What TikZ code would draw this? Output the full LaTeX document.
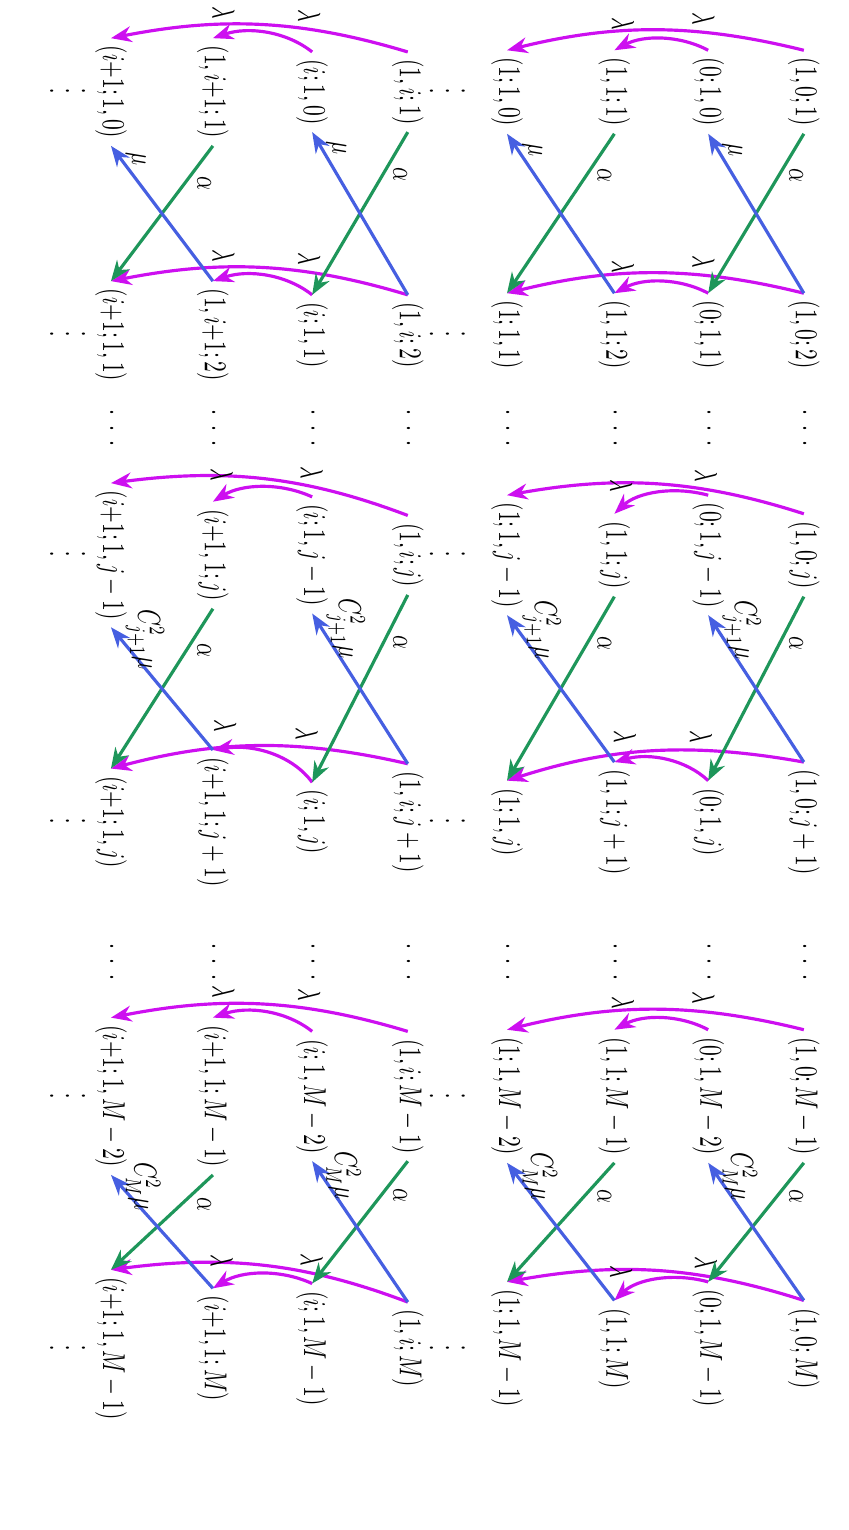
\documentclass[tikz,border=0pt]{standalone}
\usepackage{amsmath,amssymb}
\usepackage{xcolor}
\definecolor{lambdapink}{RGB}{205, 15, 240}
\definecolor{mublue}{RGB}{70, 95, 225}
\definecolor{alphagreen}{RGB}{30, 150, 90}
\usepackage{tikz}
\usetikzlibrary{arrows.meta}
\newcommand{\rowdots}{{\cdot}\mkern8mu{\cdot}\mkern8mu{\cdot}}
\newcommand{\coldots}{{\cdot}\mkern4mu{\cdot}\mkern4mu{\cdot}}

\begin{document}
\begin{tikzpicture}[rotate=-90, xscale=0.68, transform shape,
    >={Stealth[length=6.5pt, width=5pt]},
    state/.style={inner sep=3.33pt},
    lamarc/.style={->, line width=1pt, lambdapink},
    alphaline/.style={->, line width=1pt, alphagreen},
    muline/.style={->, line width=1pt, mublue},
    lbl/.style={text=black, inner sep=1pt}]
    \useasboundingbox (0,0) rectangle (24.94,9.41);

    \node[state] (s11) at (1.50,8.91) {$(1,0;1)$};
    \node[state] (s12) at (5.46,8.91) {$(1,0;2)$};
    \node[state] (s13) at (9.05,8.91) {$(1,0;j)$};
    \node[state] (s14) at (13.40,8.91) {$(1,0;j+1)$};
    \node[state] (s15) at (17.87,8.91) {$(1,0;M-1)$};
    \node[state] (s16) at (21.98,8.91) {$(1,0;M)$};

    \node[state] (s21) at (1.50,7.85) {$(0;1,0)$};
    \node[state] (s22) at (5.46,7.85) {$(0;1,1)$};
    \node[state] (s23) at (9.05,7.85) {$(0;1,j-1)$};
    \node[state] (s24) at (13.40,7.85) {$(0;1,j)$};
    \node[state] (s25) at (17.87,7.85) {$(0;1,M-2)$};
    \node[state] (s26) at (21.98,7.85) {$(0;1,M-1)$};

    \node[state] (s31) at (1.50,6.81) {$(1,1;1)$};
    \node[state] (s32) at (5.46,6.81) {$(1,1;2)$};
    \node[state] (s33) at (9.05,6.81) {$(1,1;j)$};
    \node[state] (s34) at (13.40,6.81) {$(1,1;j+1)$};
    \node[state] (s35) at (17.87,6.81) {$(1,1;M-1)$};
    \node[state] (s36) at (21.98,6.81) {$(1,1;M)$};

    \node[state] (s41) at (1.50,5.62) {$(1;1,0)$};
    \node[state] (s42) at (5.46,5.62) {$(1;1,1)$};
    \node[state] (s43) at (9.05,5.62) {$(1;1,j-1)$};
    \node[state] (s44) at (13.40,5.62) {$(1;1,j)$};
    \node[state] (s45) at (17.87,5.62) {$(1;1,M-2)$};
    \node[state] (s46) at (21.98,5.62) {$(1;1,M-1)$};

    \node[state] (s51) at (1.50,4.52) {$(1,i;1)$};
    \node[state] (s52) at (5.46,4.52) {$(1,i;2)$};
    \node[state] (s53) at (9.05,4.52) {$(1,i;j)$};
    \node[state] (s54) at (13.40,4.52) {$(1,i;j+1)$};
    \node[state] (s55) at (17.87,4.52) {$(1,i;M-1)$};
    \node[state] (s56) at (21.98,4.52) {$(1,i;M)$};

    \node[state] (s61) at (1.50,3.46) {$(i;1,0)$};
    \node[state] (s62) at (5.46,3.46) {$(i;1,1)$};
    \node[state] (s63) at (9.05,3.46) {$(i;1,j-1)$};
    \node[state] (s64) at (13.40,3.46) {$(i;1,j)$};
    \node[state] (s65) at (17.87,3.46) {$(i;1,M-2)$};
    \node[state] (s66) at (21.98,3.46) {$(i;1,M-1)$};

    \node[state] (s71) at (1.50,2.36) {$(1,i{+}1;1)$};
    \node[state] (s72) at (5.46,2.36) {$(1,i{+}1;2)$};
    \node[state] (s73) at (9.05,2.36) {$(i{+}1,1;j)$};
    \node[state] (s74) at (13.40,2.36) {$(i{+}1,1;j+1)$};
    \node[state] (s75) at (17.87,2.36) {$(i{+}1,1;M-1)$};
    \node[state] (s76) at (21.98,2.36) {$(i{+}1,1;M)$};

    \node[state] (s81) at (1.50,1.23) {$(i{+}1;1,0)$};
    \node[state] (s82) at (5.46,1.23) {$(i{+}1;1,1)$};
    \node[state] (s83) at (9.05,1.23) {$(i{+}1;1,j-1)$};
    \node[state] (s84) at (13.40,1.23) {$(i{+}1;1,j)$};
    \node[state] (s85) at (17.87,1.23) {$(i{+}1;1,M-2)$};
    \node[state] (s86) at (21.98,1.23) {$(i{+}1;1,M-1)$};

    \foreach \y [count=\k] in {8.91,7.85,6.81,5.62,4.52,3.46,2.36,1.23} {
        \node (da\k) at (6.98,\y) {$\rowdots$};
        \node (db\k) at (15.68,\y) {$\rowdots$};
    }
    \foreach \x [count=\k] in {1.50,5.46,9.05,13.40,17.87,21.98} {
        \node[rotate=90] (vm\k) at (\x,4.96) {$\coldots$};
        \node[rotate=90] (vb\k) at (\x,0.75) {$\coldots$};
    }

    \foreach \c in {1,...,6} {
        \draw[lamarc] (s1\c.west) to[bend right=20] node[lbl, pos=0.33, left=2pt] {$\lambda$} (s4\c.west);
        \draw[lamarc] (s2\c.west) to[bend right=38] node[lbl, pos=0.9, left=6pt] {$\lambda$} (s3\c.west);
        \draw[lamarc] (s5\c.west) to[bend right=20] node[lbl, pos=0.33, left=2pt] {$\lambda$} (s8\c.west);
        \draw[lamarc] (s6\c.west) to[bend right=38] node[lbl, pos=0.9, left=6pt] {$\lambda$} (s7\c.west);
    }

    \foreach \a/\b/\rate in {1/2/\mu, 3/4/C_{j+1}^2\mu, 5/6/C_M^2\mu} {
        \foreach \u/\v in {1/2,3/4,5/6,7/8} {
            \draw[alphaline] (s\u\a.east) -- node[lbl, pos=0.2, above right] {$\alpha$} (s\v\b.west);
            \draw[muline] (s\u\b.west) -- node[lbl, pos=0.9, above] {$\rate$} (s\v\a.east);
        }
    }
\end{tikzpicture}
\end{document}
